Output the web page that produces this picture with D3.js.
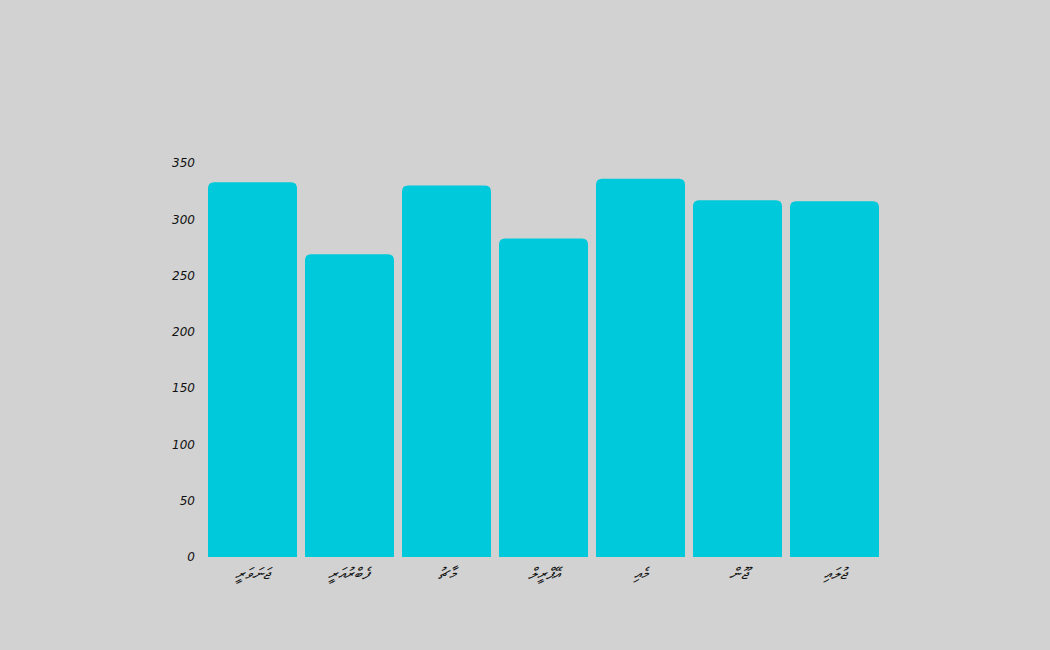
<!DOCTYPE html>
<html>
<head>
<meta charset="utf-8">
<script src="https://cdn.jsdelivr.net/npm/d3@7"></script>
<style>
	body { margin: 0; background: #d2d2d2; }
	svg { display: block; }
	.tick text { font-family: "DejaVu Sans", "Noto Sans", sans-serif; font-style: italic; fill: #111; }
	.y-axis .tick text { font-size: 12px; }
	.x-axis .tick text { font-size: 16px; }
</style>
</head>
<body>
<svg id="chart" width="1050" height="650"></svg>
<script>
const months = ["ޖަނަވަރީ", "ފެބްރުއަރީ", "މާޗު", "އޭޕްރީލް", "މެއި", "ޖޫން", "ޖުލައި"];
const values = [333, 269, 330, 283, 336, 317, 316];
const yTicks = [0, 50, 100, 150, 200, 250, 300, 350];

const svg = d3.select("#chart");
svg.append("rect").attr("width", 1050).attr("height", 650).attr("fill", "#d2d2d2");

const x = d3.scaleBand()
	.domain(months)
	.range([208, 879])
	.paddingInner(0.0825)
	.paddingOuter(0);

const y = d3.scaleLinear()
	.domain([0, 350])
	.range([557, 163]);

// bar with rounded top corners only
function barPath(x0, y0, w, h, r) {
	r = Math.min(r, h, w / 2);
	return "M" + x0 + "," + (y0 + h) +
		"V" + (y0 + r) +
		"Q" + x0 + "," + y0 + " " + (x0 + r) + "," + y0 +
		"H" + (x0 + w - r) +
		"Q" + (x0 + w) + "," + y0 + " " + (x0 + w) + "," + (y0 + r) +
		"V" + (y0 + h) + "Z";
}

svg.append("g").selectAll("path")
	.data(months)
	.join("path")
	.attr("fill", "#00c9db")
	.attr("d", (m, i) => barPath(x(m), y(values[i]), x.bandwidth(), y(0) - y(values[i]), 6));

const yAxis = svg.append("g")
	.attr("class", "y-axis")
	.attr("transform", "translate(197,0)")
	.call(d3.axisLeft(y).tickValues(yTicks).tickSize(0).tickPadding(2));
yAxis.select(".domain").remove();

const xAxis = svg.append("g")
	.attr("class", "x-axis")
	.attr("transform", "translate(0,563)")
	.call(d3.axisBottom(x).tickSize(0).tickPadding(5));
xAxis.select(".domain").remove();
</script>
</body>
</html>
